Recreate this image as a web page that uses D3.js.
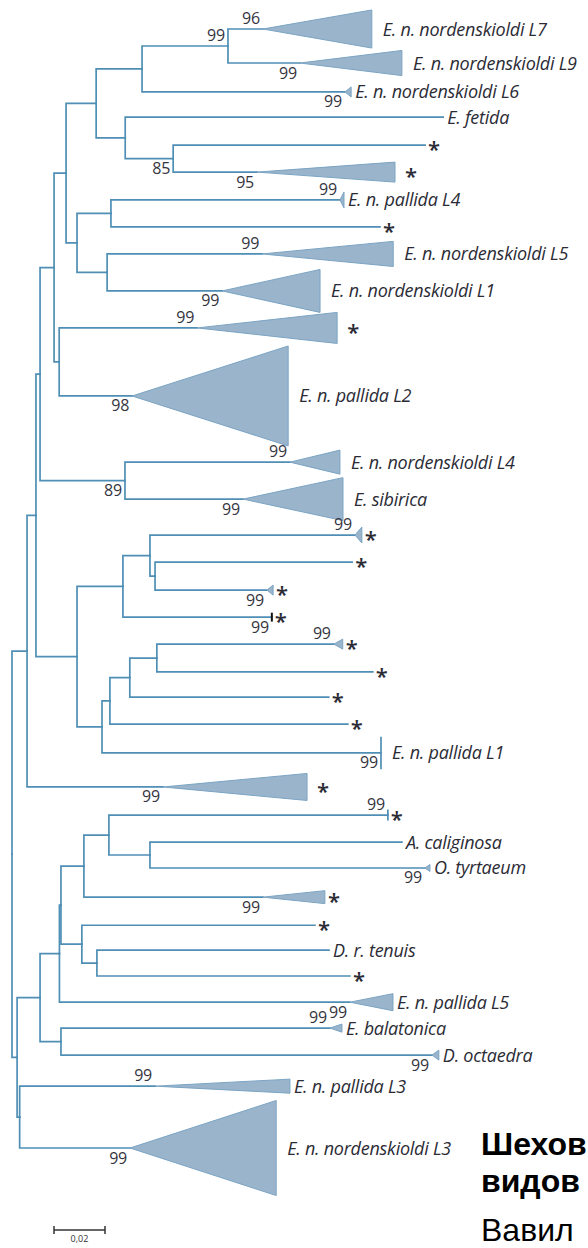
<!DOCTYPE html>
<html><head><meta charset="utf-8">
<script src="https://cdn.jsdelivr.net/npm/d3@7"></script>
<style>html,body{margin:0;padding:0;background:#fff;} svg{display:block}</style>
</head><body><svg id="chart" width="588" height="1248"></svg>
<script>
// ---------------- DATA ----------------
// Tree topology (children listed top-to-bottom) and branch lengths (substitutions/site)
const nodeIds = ["root","O","N","L","K","F","C","B","A","t1","t2","t3","D","t4","E","t5","t6",
  "G","H","t7","t8","I","t9","t10","J","t11","t12","M","t13","t14",
  "P","Q","R","t15","S","t16","t17","t18","T","U","V","W","t19","t20","t21","t22","t23","t24",
  "AB","AA","Y2","Y1","AD","AE","t25","AF","t26","t27","t28","Z","t29","AG","t30","t31","t32",
  "AH","t33","t34","AC","t35","t36"];
const nodeParents = [null,"root","O","N","L","K","F","C","B","A","A","B","C","D","D","E","E",
  "F","G","H","H","G","I","I","K","J","J","L","M","M",
  "N","P","Q","R","R","S","S","Q","P","T","U","V","W","W","V","U","T","O",
  "root","AB","AA","Y2","Y1","AD","AE","AE","AF","AF","AD","Y1","Z","Z","AG","AG","Y2",
  "AA","AH","AH","AB","AC","AC"];
const branchLengths = [0,0.0059,0.0035,0.0016,0.0055,0.0047,0.0118,0.0180,0.0337,0.0137,0.0282,0.0796,0.0114,0.1247,0.0188,0.0988,0.0329,
  0.0043,0.0133,0.0898,0.1055,0.0118,0.0608,0.0451,0.0020,0.0541,0.0286,0.0333,0.0647,0.0463,
  0.0161,0.0180,0.0106,0.0804,0.0020,0.0773,0.0439,0.0584,0.0098,0.0031,0.0078,0.0106,0.0694,0.0847,0.0780,0.0933,0.1094,0.0533,
  0.0020,0.0090,0.0076,0.0006,0.0090,0.0098,0.1094,0.0161,0.0988,0.1078,0.0702,0.0082,0.0914,0.0059,0.0910,0.0992,0.1139,
  0.0082,0.1055,0.1455,0.0010,0.0531,0.0433];

// Tips (top to bottom): label and vertical position (rows)
const tipIds = ["t1","t2","t3","t4","t5","t6","t7","t8","t9","t10","t11","t12","t13","t14","t15","t16","t17","t18",
  "t19","t20","t21","t22","t23","t24","t25","t26","t27","t28","t29","t30","t31","t32","t33","t34","t35","t36"];
const tipLabels = ["E. n. nordenskioldi L7","E. n. nordenskioldi L9","E. n. nordenskioldi L6","E. fetida","*","*",
  "E. n. pallida L4","*","E. n. nordenskioldi L5","E. n. nordenskioldi L1","*","E. n. pallida L2",
  "E. n. nordenskioldi L4","E. sibirica","*","*","*","*","*","*","*","*","E. n. pallida L1","*","*",
  "A. caliginosa","O. tyrtaeum","*","*","D. r. tenuis","*","E. n. pallida L5","E. balatonica","D. octaedra",
  "E. n. pallida L3","E. n. nordenskioldi L3"];
const tipRows = [0,1.26,2.33,3.26,4.30,5.30,6.33,7.33,8.33,9.70,11.07,13.59,16.04,17.41,18.74,19.74,20.78,21.78,
  22.78,23.81,24.74,25.74,26.81,28.07,29.11,30.11,31.07,32.15,33.19,34.11,35.07,36.04,37.0,38.0,39.15,41.44];

// Collapsed clades: depth (subst./site) and height (rows)
const cladeIds = ["t1","t2","t3","t6","t7","t9","t10","t11","t12","t13","t14","t15","t17","t18","t19","t23",
  "t24","t25","t27","t28","t32","t33","t34","t35","t36"];
const cladeDepths = [0.0427,0.0400,0.0024,0.0541,0.0016,0.0514,0.0384,0.0549,0.0612,0.0196,0.0392,0.0027,0.0024,0,0.0035,0,
  0.0565,0,0.0020,0.0243,0.0169,0.0047,0.0027,0.0529,0.0573];
const cladeHeights = [1.41,0.93,0.37,0.74,0.59,0.93,1.59,1.15,3.70,0.89,1.59,0.59,0.37,0.33,0.37,1.20,
  1.0,0.41,0.26,0.48,0.63,0.30,0.37,0.52,3.52];

// Bootstrap support
const supportIds = ["A","t1","t2","t3","E","t6","t7","t9","t10","t11","t12","t13","M","t14","t15","t17","t18",
  "t19","t23","t24","t25","t27","t28","t32","t33","t34","t35","t36"];
const supportValues = [99,96,99,99,85,95,99,99,99,99,98,99,89,99,99,99,99,99,99,99,99,99,99,99,99,99,99,99];
const supportSides = ["a","a","b","b","b","b","a","a","b","a","b","a","b","b","a","b","b",
  "a","b","b","a","b","b","b","a","b","a","b"];

const scaleBarValue = 0.02;
const scaleBarLabel = "0,02";
const captionLines = ["Шехов", "видов", "Вавил"];

// ---------------- DRAWING ----------------
const svg = d3.select("#chart");
const branchColor = "#4f8fb5";
const triFill = "#9ab4cc";
const triStroke = "#7aa4c3";
const textColor = "#2b2b35";
const labelFont = "'Open Sans', 'Noto Sans', sans-serif";

const tab = nodeIds.map((id, i) => ({id, parent: nodeParents[i], len: branchLengths[i]}));
const root = d3.stratify().id(d => d.id).parentId(d => d.parent)(tab);

const rowOf = new Map(tipIds.map((id, i) => [id, tipRows[i]]));
const labelOf = new Map(tipIds.map((id, i) => [id, tipLabels[i]]));
const clade = new Map(cladeIds.map((id, i) => [id, {depth: cladeDepths[i], height: cladeHeights[i]}]));

root.eachBefore(n => { n.dist = n.parent ? n.parent.dist + n.data.len : 0; });
root.eachAfter(n => {
  if (n.children) n.row = (n.children[0].row + n.children[n.children.length - 1].row) / 2;
  else n.row = rowOf.get(n.id);
});

const x = d3.scaleLinear().domain([0, 0.1]).range([12, 267]);
const y = d3.scaleLinear().domain([0, 41.44]).range([29, 1148]);
const rowPx = y(1) - y(0);

const gBranches = svg.append("g");
gBranches.selectAll("path")
  .data(root.descendants().filter(n => n.parent))
  .join("path")
  .attr("d", n => `M${x(n.parent.dist)},${y(n.parent.row)}V${y(n.row)}H${x(n.dist)}`)
  .attr("fill", "none")
  .attr("stroke", branchColor)
  .attr("stroke-width", 1.7)
  .attr("stroke-linejoin", "miter")
  .attr("stroke-linecap", "square");

// collapsed clades
const leaves = root.leaves();
const blackTicks = new Set(["t18"]);
const gClades = svg.append("g");
leaves.filter(n => clade.has(n.id)).forEach(n => {
  const c = clade.get(n.id);
  const x0 = x(n.dist), x1 = x(n.dist + c.depth), yc = y(n.row), h = c.height * rowPx / 2;
  if (c.depth > 0) {
    gClades.append("path")
      .attr("d", `M${x0},${yc}L${x1},${yc - h}L${x1},${yc + h}Z`)
      .attr("fill", triFill)
      .attr("stroke", triStroke)
      .attr("stroke-width", 1);
  } else {
    gClades.append("line")
      .attr("x1", x1).attr("x2", x1).attr("y1", yc - h).attr("y2", yc + h)
      .attr("stroke", blackTicks.has(n.id) ? "#111" : branchColor)
      .attr("stroke-width", blackTicks.has(n.id) ? 2 : 1.7);
  }
});

// tip labels
const gLabels = svg.append("g");
leaves.forEach(n => {
  const c = clade.get(n.id);
  const d = c ? c.depth : 0;
  const tipX = x(n.dist + d);
  const lab = labelOf.get(n.id);
  const gap = (c && c.height > 0.7) ? 11 : 4;
  if (lab === "*") {
    gLabels.append("text")
      .attr("x", tipX + gap - 1)
      .attr("y", y(n.row) + 12)
      .attr("font-family", labelFont)
      .attr("font-size", 22)
      .attr("font-weight", 600)
      .attr("fill", textColor)
      .text(lab);
  } else {
    gLabels.append("text")
      .attr("x", tipX + gap)
      .attr("y", y(n.row) + 6.5)
      .attr("font-family", labelFont)
      .attr("font-style", "italic")
      .attr("font-size", 18)
      .attr("letter-spacing", -0.25)
      .attr("fill", textColor)
      .text(lab);
  }
});

// bootstrap values
const nodeById = new Map(root.descendants().map(n => [n.id, n]));
const gSupport = svg.append("g");
supportIds.forEach((id, i) => {
  const n = nodeById.get(id);
  gSupport.append("text")
    .attr("x", x(n.dist) - 3)
    .attr("y", y(n.row) + (supportSides[i] === "a" ? -5 : 15.5))
    .attr("text-anchor", "end")
    .attr("font-family", labelFont)
    .attr("font-size", 16)
    .attr("letter-spacing", -0.2)
    .attr("fill", "#353540")
    .text(supportValues[i]);
});

// scale bar
const sbX0 = 54, sbY = 1230;
const sbW = x(scaleBarValue) - x(0);
const gScale = svg.append("g").attr("stroke", "#333").attr("stroke-width", 1.5);
gScale.append("line").attr("x1", sbX0).attr("x2", sbX0 + sbW).attr("y1", sbY).attr("y2", sbY);
gScale.append("line").attr("x1", sbX0).attr("x2", sbX0).attr("y1", sbY - 4).attr("y2", sbY + 4);
gScale.append("line").attr("x1", sbX0 + sbW).attr("x2", sbX0 + sbW).attr("y1", sbY - 4).attr("y2", sbY + 4);
svg.append("text").attr("x", sbX0 + sbW / 2).attr("y", sbY + 12)
  .attr("text-anchor", "middle").attr("font-family", labelFont).attr("font-size", 9)
  .attr("fill", "#333").text(scaleBarLabel);

// caption fragment
const capY = [1155, 1192, 1241];
const capW = ["bold", "bold", "normal"];
captionLines.forEach((t, i) => {
  svg.append("text").attr("x", 481).attr("y", capY[i])
    .attr("font-family", "'Liberation Sans', Arial, sans-serif")
    .attr("font-size", 32).attr("font-weight", capW[i])
    .attr("fill", "#000").text(t);
});
</script>
</body></html>
